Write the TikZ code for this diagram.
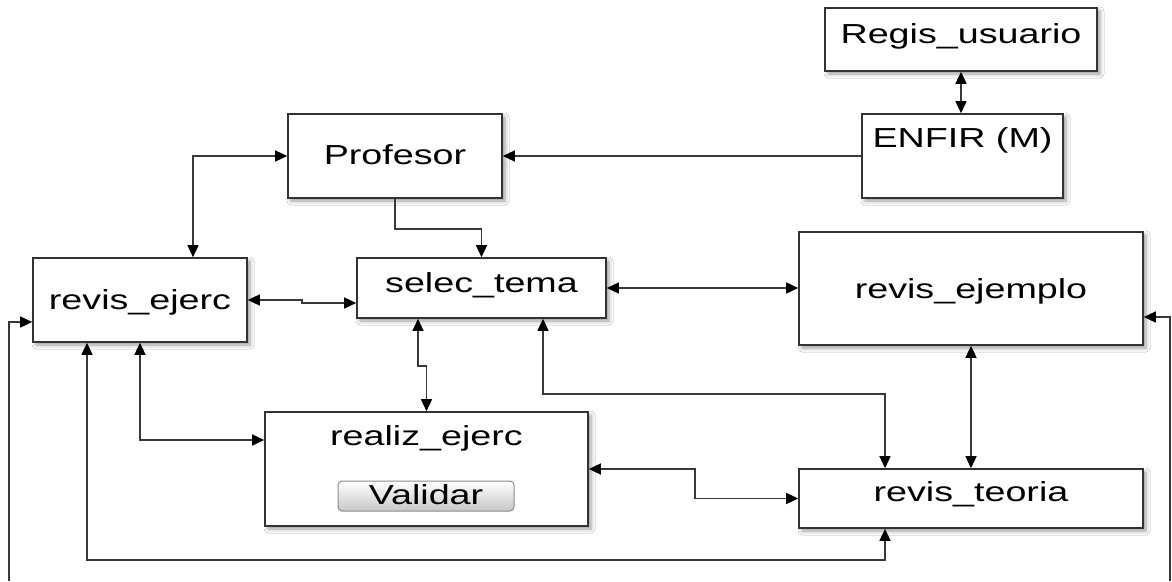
\documentclass[tikz,border=0pt]{standalone}
\usepackage{fontspec}
\usepackage{graphicx}
\setmainfont{Liberation Sans}
\usetikzlibrary{arrows.meta,shadows.blur}
\newcommand\widetext[1]{\scalebox{1.37}[1]{#1}}

\tikzset{
  box/.style={draw=black!80, line width=1.6pt, fill=white, inner sep=0pt,
    blur shadow={shadow xshift=3pt, shadow yshift=-3pt, shadow blur radius=4pt, shadow opacity=40}},
  lbl/.style={anchor=base, inner sep=0pt, font=\fontsize{27.5}{30}\selectfont},
  link/.style={draw=black!78, line width=1.4pt},
  tip/.tip={Triangle[length=12pt,width=11pt,color=black]},
  one/.style={link, -tip},
  two/.style={link, tip-tip},
  button/.style={draw=black!45, line width=1pt, rounded corners=4pt,
    top color=white, bottom color=black!22, inner sep=0pt},
}

\begin{document}
\begin{tikzpicture}[x=1pt, y=-1pt]
  \path[use as bounding box, fill=white] (0,0) rectangle (1172,581);

  % boxes
  \node[box, minimum width=272pt, minimum height=63pt]  (regis)      at (961,39.5)   {};
  \node[box, minimum width=201pt, minimum height=84pt]  (enfir)      at (962.5,156)  {};
  \node[box, minimum width=214pt, minimum height=84pt]  (profesor)   at (395,156)    {};
  \node[box, minimum width=214pt, minimum height=84pt]  (revisejerc) at (140,300)    {};
  \node[box, minimum width=249pt, minimum height=60pt]  (selec)      at (481.5,288)  {};
  \node[box, minimum width=344pt, minimum height=113pt] (ejemplo)    at (971,288.5)  {};
  \node[box, minimum width=323pt, minimum height=114pt] (realiz)     at (426.5,469)  {};
  \node[box, minimum width=344pt, minimum height=59pt]  (teoria)     at (971,498.5)  {};
  \node[button, minimum width=176pt, minimum height=30pt] (validar)  at (426,496)    {};

  % labels
  \node[lbl] (regis-t)      at (961,43)    {\widetext{Regis\_usuario}};
  \node[lbl] (enfir-t)      at (962.5,147) {\widetext{ENFIR (M)}};
  \node[lbl] (profesor-t)   at (395,164)   {\widetext{Profesor}};
  \node[lbl] (revisejerc-t) at (140,309)   {\widetext{revis\_ejerc}};
  \node[lbl] (selec-t)      at (481.5,292) {\widetext{selec\_tema}};
  \node[lbl] (ejemplo-t)    at (971,298)   {\widetext{revis\_ejemplo}};
  \node[lbl] (realiz-t)     at (426.5,445) {\widetext{realiz\_ejerc}};
  \node[lbl] (teoria-t)     at (971,501)   {\widetext{revis\_teoria}};
  \node[lbl] (validar-t)    at (426,504)   {\widetext{Validar}};

  % free ends of the two outer lines
  \coordinate (leftend)  at (9,581);
  \coordinate (rightend) at (1170,581);

  % connectors
  \draw[two] (regis.south) -- (regis.south |- enfir.north);
  \draw[one] (enfir.west) -- (profesor.east);
  \draw[two] (profesor.west) -| ([xshift=53pt]revisejerc.north);
  \draw[one] (profesor.south) -- ++(0,30) -| (selec.north);
  \draw[two] (revisejerc.east) -- ++(54,0) |- ([yshift=-15pt]selec.west);
  \draw[two] (selec.east) -- (selec.east -| ejemplo.west);
  \draw[two] ([xshift=-63.5pt]selec.south) -- ++(0,47) -| (realiz.north);
  \draw[two] ([xshift=61.5pt]selec.south) -- ++(0,75) -| ([xshift=-86pt]teoria.north);
  \draw[two] (ejemplo.south) -- (teoria.north);
  \draw[two] (realiz.east) -- ++(106,0) |- (teoria.west);
  \draw[two] (revisejerc.south) |- ([yshift=29pt]realiz.west);
  \draw[two] ([xshift=-53pt]revisejerc.south) -- ++(0,217) -| ([xshift=-86pt]teoria.south);
  \draw[one] (leftend) |- ([yshift=-22pt]revisejerc.west);
  \draw[one] (rightend) |- ([yshift=-28.5pt]ejemplo.east);
\end{tikzpicture}
\end{document}
